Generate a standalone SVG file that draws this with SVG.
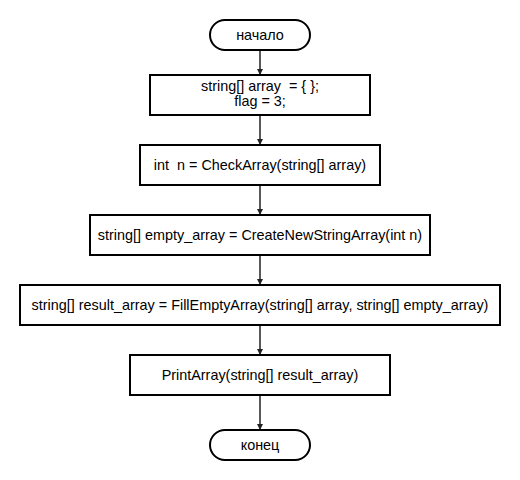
<svg xmlns="http://www.w3.org/2000/svg" width="520" height="480" viewBox="0 0 520 480">
<defs>
<marker id="ah" markerWidth="6" markerHeight="6" refX="5" refY="3" orient="auto" markerUnits="userSpaceOnUse">
<path d="M0,0 L6,3 L0,6 Z" fill="#222"/>
</marker>
<style>
.n{fill:#fff;stroke:#000;stroke-width:2}
.t{font-family:"Liberation Sans",Arial,sans-serif;font-size:14.4px;fill:#000;text-anchor:middle;white-space:pre}
.c{stroke:#222;stroke-width:1.5;fill:none;marker-end:url(#ah)}
</style>
</defs>
<rect width="520" height="480" fill="#fff"/>
<g id="connectors">
<line class="c" x1="260" y1="50" x2="260" y2="74"/>
<line class="c" x1="260" y1="115" x2="260" y2="144"/>
<line class="c" x1="260" y1="185" x2="260" y2="214"/>
<line class="c" x1="260" y1="255" x2="260" y2="284"/>
<line class="c" x1="260" y1="325" x2="260" y2="354"/>
<line class="c" x1="260" y1="395" x2="260" y2="429"/>
</g>
<g id="start">
<rect class="n" x="210" y="20" width="100" height="30" rx="15"/>
<text class="t" x="260" y="40">начало</text>
</g>
<g id="init">
<rect class="n" x="150" y="75" width="220" height="40"/>
<text class="t" x="260" y="91" xml:space="preserve">string[] array  = { };</text>
<text class="t" x="260" y="106">flag = 3;</text>
</g>
<g id="check">
<rect class="n" x="140" y="145" width="240" height="40"/>
<text class="t" x="260" y="170" xml:space="preserve">int  n = CheckArray(string[] array)</text>
</g>
<g id="create">
<rect class="n" x="90" y="215" width="340" height="40"/>
<text class="t" x="260" y="240">string[] empty_array = CreateNewStringArray(int n)</text>
</g>
<g id="fill">
<rect class="n" x="20" y="285" width="480" height="40"/>
<text class="t" x="260" y="310">string[] result_array = FillEmptyArray(string[] array, string[] empty_array)</text>
</g>
<g id="print">
<rect class="n" x="130" y="355" width="260" height="40"/>
<text class="t" x="260" y="380">PrintArray(string[] result_array)</text>
</g>
<g id="end">
<rect class="n" x="210" y="430" width="100" height="30" rx="15"/>
<text class="t" x="260" y="450">конец</text>
</g>
</svg>
